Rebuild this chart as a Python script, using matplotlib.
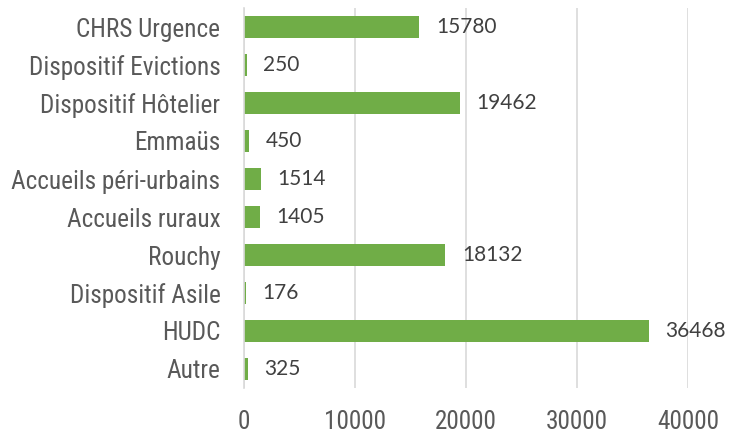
import matplotlib
matplotlib.use("Agg")
import matplotlib.pyplot as plt
from matplotlib import font_manager as fm

categories = ["CHRS Urgence", "Dispositif Evictions", "Dispositif Hôtelier", "Emmaüs",
              "Accueils péri-urbains", "Accueils ruraux", "Rouchy", "Dispositif Asile",
              "HUDC", "Autre"]
values = [15780, 250, 19462, 450, 1514, 1405, 18132, 176, 36468, 325]
xticks = [0, 10000, 20000, 30000, 40000]

cands = []
for f in fm.fontManager.ttflist:
    tag = (f.name + " " + f.fname).lower()
    if ("narrow" in tag or "condensed" in tag or str(f.stretch) in ("condensed", "semi-condensed", "extra-condensed")) and "bold" not in tag and "italic" not in tag and "oblique" not in tag:
        cands.append(f)
pref = ["liberation sans narrow", "roboto condensed", "open sans condensed", "dejavu sans condensed", "dejavu sans"]
chosen = None
for p in pref:
    for f in cands:
        if p in (f.name + " " + f.fname).lower().replace("-", " ").replace("_", " ") or p.replace(" ", "") in f.fname.lower():
            chosen = f
            break
    if chosen:
        break
if chosen is None and cands:
    chosen = cands[0]
if chosen is not None:
    narrow_fp = fm.FontProperties(fname=chosen.fname)
    catsize = 18.2
else:
    narrow_fp = fm.FontProperties(family="Roboto")
    catsize = 16
names = {f.name for f in fm.fontManager.ttflist}
numfont = "Lato" if "Lato" in names else "DejaVu Sans"

fig = plt.figure(figsize=(7.39, 4.33), dpi=100)
ax = fig.add_axes([244/739, 1-388/433, (688-244)/739, (388-8)/433])

y = list(range(len(categories)))
ax.barh(y, values, height=0.58, color="#70AD47", zorder=3)
ax.set_ylim(len(categories)-0.5, -0.5)
ax.set_xlim(0, 40000)
ax.set_yticks(y)
ax.set_yticklabels(categories, color="#595959", fontproperties=narrow_fp, fontsize=catsize)
ax.set_xticks(xticks)
ax.set_xticklabels([str(t) for t in xticks], color="#595959", fontproperties=narrow_fp, fontsize=catsize)
ax.tick_params(axis="y", length=0, pad=17)
ax.tick_params(axis="x", length=0, pad=16)
for s in ["top", "right", "bottom"]:
    ax.spines[s].set_visible(False)
ax.spines["left"].set_color("#D9D9D9")
ax.spines["left"].set_linewidth(1.2)
ax.spines["left"].set_zorder(4)
ax.grid(axis="x", color="#D9D9D9", linewidth=1.2, zorder=0)
ax.set_axisbelow(True)

for yi, v in zip(y, values):
    ax.annotate(str(v), (v, yi), xytext=(12, 0), textcoords="offset points",
                va="center", ha="left", fontsize=15, color="#404040",
                family=numfont, annotation_clip=False)

fig.savefig("out.png", dpi=100)
